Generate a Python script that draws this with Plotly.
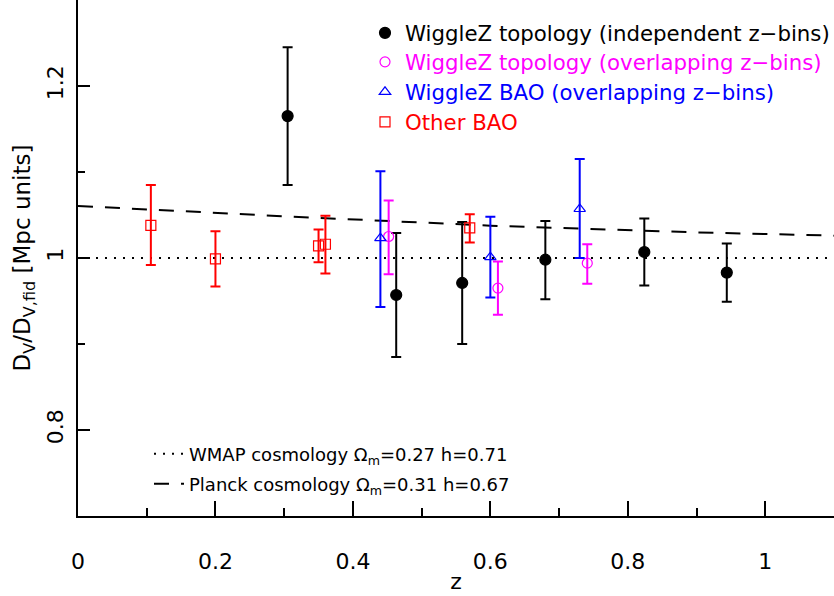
import plotly.graph_objects as go

# WiggleZ topology (independent z-bins)
ind_z = [0.305, 0.463, 0.559, 0.680, 0.824, 0.944]
ind_val = [1.165, 0.957, 0.971, 0.998, 1.007, 0.983]
ind_hi = [1.245, 1.029, 1.042, 1.043, 1.046, 1.017]
ind_lo = [1.085, 0.885, 0.900, 0.952, 0.968, 0.949]

# WiggleZ topology (overlapping z-bins)
ovl_z = [0.452, 0.611, 0.741]
ovl_val = [1.025, 0.965, 0.994]
ovl_hi = [1.067, 0.996, 1.016]
ovl_lo = [0.981, 0.934, 0.970]

# WiggleZ BAO (overlapping z-bins)
bao_z = [0.44, 0.60, 0.73]
bao_val = [1.023, 1.001, 1.057]
bao_hi = [1.101, 1.048, 1.115]
bao_lo = [0.943, 0.954, 1.000]

# Other BAO
oth_z = [0.106, 0.20, 0.35, 0.36, 0.57]
oth_val = [1.038, 0.999, 1.014, 1.016, 1.035]
oth_hi = [1.085, 1.031, 1.033, 1.049, 1.051]
oth_lo = [0.992, 0.967, 0.995, 0.982, 1.018]

# Cosmology curves
wmap_z = [0.0, 1.1]
wmap_ratio = [1.0, 1.0]
planck_z = [0.0, 0.3, 0.6, 0.9, 1.1]
planck_ratio = [1.0605, 1.0485, 1.0376, 1.0298, 1.026]

FONT = "DejaVu Sans"
W, H = 834, 596
ML, MB = 78, 80
PH = H - MB  # plot height in px


def errs(v, hi, lo):
    return [h - x for x, h in zip(v, hi)], [x - l for x, l in zip(v, lo)]


def leg_y(py):
    return (PH - py) / PH


def leg_x(px):
    return (px - ML) / (W - ML)


fig = go.Figure()
legends = {}

line_series = [
    (wmap_z, wmap_ratio, "2px,7px", "WMAP cosmology Ω<sub>m</sub>=0.27 h=0.71", 454),
    (planck_z, planck_ratio, "15px,12px", "Planck cosmology Ω<sub>m</sub>=0.31 h=0.67", 484),
]
for j, (z, r, dash, name, py) in enumerate(line_series):
    lname = f"legend{j + 6}"
    fig.add_trace(go.Scatter(
        x=z, y=r, mode="lines",
        line=dict(color="black", width=2, dash=dash),
        name=name, legend=lname))
    legends[lname] = dict(x=leg_x(189 - 40), y=leg_y(py), xanchor="left", yanchor="middle",
                          bgcolor="rgba(0,0,0,0)", font=dict(size=18), itemclick=False)

series = [
    (ind_z, ind_val, ind_hi, ind_lo, "black", "circle", 11,
     "WiggleZ topology (independent z−bins)", 33),
    (ovl_z, ovl_val, ovl_hi, ovl_lo, "#ff00ff", "circle-open", 10,
     "WiggleZ topology (overlapping z−bins)", 62),
    (bao_z, bao_val, bao_hi, bao_lo, "#0000ff", "triangle-up-open", 10,
     "WiggleZ BAO (overlapping z−bins)", 92),
    (oth_z, oth_val, oth_hi, oth_lo, "#ff0000", "square-open", 10,
     "Other BAO", 122),
]
for i, (z, v, hi, lo, col, sym, sz, name, py) in enumerate(series):
    up, dn = errs(v, hi, lo)
    lname = "legend" if i == 0 else f"legend{i + 1}"
    fig.add_trace(go.Scatter(
        x=z, y=v, mode="markers",
        marker=dict(color=col, symbol=sym, size=sz, line=dict(color=col, width=1.2)),
        error_y=dict(type="data", symmetric=False, array=up, arrayminus=dn,
                     color=col, thickness=2, width=5),
        name=f'<span style="color:{col}">{name}</span>',
        legend=lname))
    legends[lname] = dict(x=leg_x(385 - 20), y=leg_y(py), xanchor="left", yanchor="middle",
                          bgcolor="rgba(0,0,0,0)", font=dict(size=21.3), itemclick=False)

fig.update_layout(
    width=W, height=H,
    margin=dict(l=ML, r=0, t=0, b=MB, autoexpand=False),
    paper_bgcolor="white", plot_bgcolor="white",
    font=dict(family=FONT, size=21, color="black"),
    showlegend=True,
    **legends,
)
fig.update_xaxes(
    range=[0, 1.1], showgrid=False, zeroline=False, automargin=False,
    showline=True, linecolor="black", linewidth=2,
    ticks="inside", ticklen=15, tickwidth=2, tickcolor="black",
    tickvals=[0, 0.2, 0.4, 0.6, 0.8, 1.0], ticktext=["0", "0.2", "0.4", "0.6", "0.8", "1"],
    minor=dict(ticks="inside", ticklen=8, tickwidth=2, dtick=0.1, tick0=0, tickcolor="black"),
    tickfont=dict(size=22), ticklabelstandoff=25,
    title=dict(text="z", font=dict(size=22), standoff=0),
)
fig.update_yaxes(
    range=[0.7, 1.3], showgrid=False, zeroline=False, automargin=False,
    showline=True, linecolor="black", linewidth=2,
    ticks="inside", ticklen=12, tickwidth=2, tickcolor="black",
    tickvals=[0.8, 1.0, 1.2], ticktext=["0.8", "1", "1.2"],
    minor=dict(ticks="inside", ticklen=7, tickwidth=2, dtick=0.1, tick0=0.7, tickcolor="black"),
    tickfont=dict(size=22), tickangle=-90, ticklabelstandoff=4,
    title=dict(text="D<sub>V</sub>/D<sub>V,fid</sub> [Mpc units]", font=dict(size=23), standoff=6),
)

fig.write_html("out.html", config={"displayModeBar": False},
               post_script="document.body.style.margin='0';document.body.style.overflow='hidden';")
